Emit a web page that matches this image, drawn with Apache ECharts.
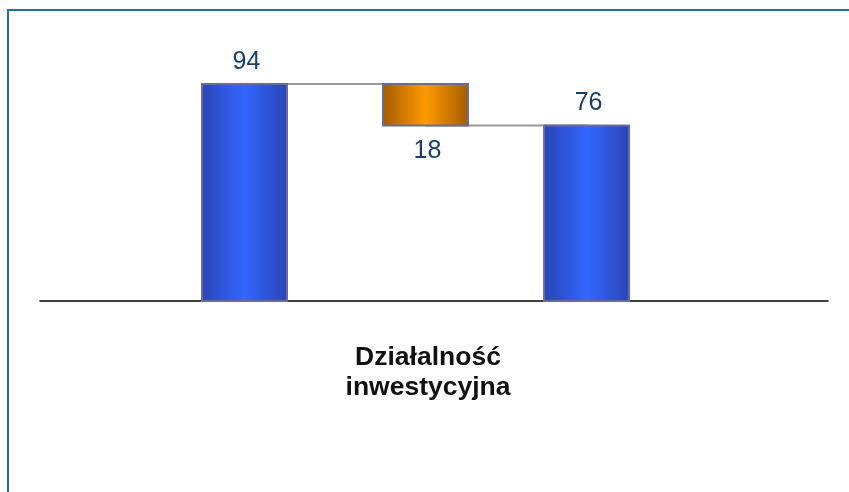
<!DOCTYPE html>
<html>
<head>
<meta charset="utf-8">
<script src="https://cdn.jsdelivr.net/npm/echarts@6/dist/echarts.min.js"></script>
<style>
html,body{margin:0;padding:0;background:#fff;}
#chart{width:849px;height:492px;}
</style>
</head>
<body>
<div id="chart"></div>
<script>
// dane wykresu kaskadowego
var categoryName = 'Działalność\ninwestycyjna';
var positions = [0, 1, 1.89];
var startValue = 94;
var changeValue = 18;
var endValue = 76;

// [pozycja, od, do, etykieta]
var bars = [
    [positions[0], 0, startValue, startValue],
    [positions[1], startValue - changeValue, startValue, changeValue],
    [positions[2], 0, endValue, endValue]
];

var labelAbove = [true, false, true];

function blueFill(){
    return new echarts.graphic.LinearGradient(0, 0, 1, 0, [
        {offset: 0, color: '#2a45b5'},
        {offset: 0.5, color: '#3366ff'},
        {offset: 1, color: '#2a45b5'}
    ]);
}
function orangeFill(){
    return new echarts.graphic.LinearGradient(0, 0, 1, 0, [
        {offset: 0, color: '#a35c00'},
        {offset: 0.5, color: '#ff9900'},
        {offset: 1, color: '#a35c00'}
    ]);
}

function renderBar(params, api){
    var x = api.value(0);
    var top = api.coord([x, api.value(2)]);
    var bottom = api.coord([x, api.value(1)]);
    var w = 85;
    var idx = params.dataIndex;
    var fill = idx === 1 ? orangeFill() : blueFill();
    var above = labelAbove[idx];
    return {
        type: 'group',
        children: [
            {
                type: 'rect',
                shape: {x: top[0] - w / 2, y: top[1], width: w, height: bottom[1] - top[1]},
                style: {fill: fill, stroke: '#6b6b9e', lineWidth: 2}
            },
            {
                type: 'text',
                x: top[0] + 2,
                y: above ? top[1] - 22 : bottom[1] + 26,
                style: {
                    text: String(api.value(3)),
                    fill: '#173f6e',
                    fontSize: 25,
                    fontFamily: 'Liberation Sans, Arial',
                    align: 'center',
                    verticalAlign: 'middle'
                }
            }
        ]
    };
}

var option = {
    backgroundColor: '#fff',
    animation: false,
    graphic: [
        {
            type: 'rect',
            shape: {x: 8, y: 10, width: 900, height: 600},
            style: {fill: 'none', stroke: '#1f6fb0', lineWidth: 2},
            silent: true
        }
    ],
    grid: {left: 40, right: 21, top: 84, bottom: 191},
    xAxis: {
        type: 'value',
        min: -1.13,
        max: 3.224,
        axisLine: {show: true, onZero: false, lineStyle: {color: '#000', width: 1.5}},
        axisTick: {show: false},
        axisLabel: {show: false},
        splitLine: {show: false},
        name: categoryName,
        nameLocation: 'middle',
        nameGap: 42,
        nameTextStyle: {
            color: '#111', fontSize: 26.5, fontWeight: 'bold',
            fontFamily: 'Liberation Sans, Arial', lineHeight: 30,
            verticalAlign: 'top',
            padding: [0, 12, 0, 0]
        }
    },
    yAxis: {
        type: 'value',
        min: 0,
        max: startValue,
        show: false,
        splitLine: {show: false}
    },
    series: [
        {
            // linie łączące
            type: 'line',
            data: [[positions[0], startValue], [positions[1], startValue]],
            symbol: 'none',
            lineStyle: {color: '#999', width: 2},
            z: 1
        },
        {
            type: 'line',
            data: [[positions[1], endValue], [positions[2], endValue]],
            symbol: 'none',
            lineStyle: {color: '#999', width: 2},
            z: 1
        },
        {
            type: 'custom',
            renderItem: renderBar,
            data: bars,
            z: 3
        }
    ]
};

var myChart = echarts.init(document.getElementById('chart'));
myChart.setOption(option);
</script>
</body>
</html>
